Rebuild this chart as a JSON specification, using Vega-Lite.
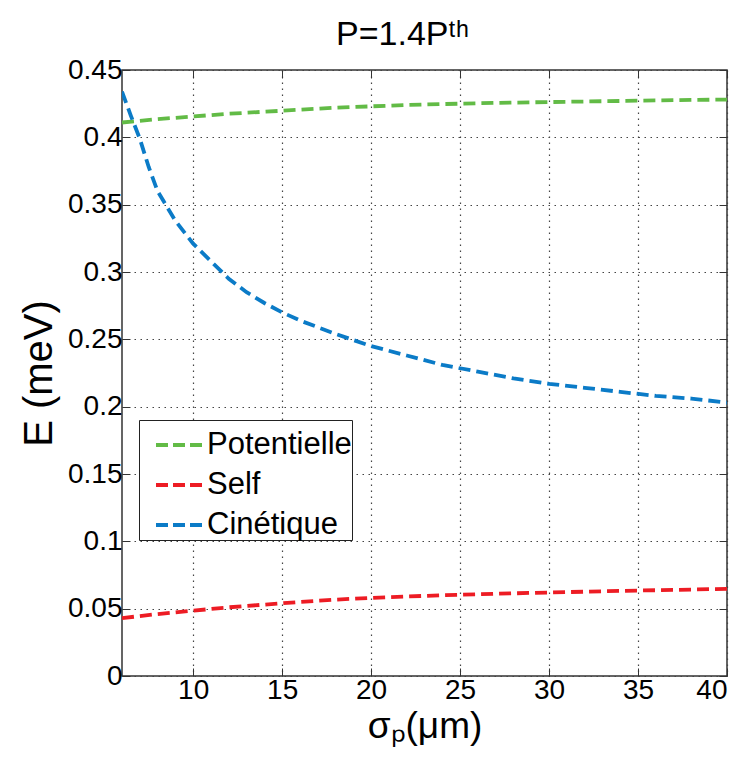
{
  "$schema": "https://vega.github.io/schema/vega-lite/v6.json",
  "width": 605,
  "height": 606,
  "autosize": {"type": "none"},
  "padding": {"left": 122, "top": 70, "right": 17, "bottom": 82},
  "background": "white",
  "config": {
    "font": "Liberation Sans",
    "view": {"stroke": "#333333", "strokeWidth": 1.5},
    "axis": {"domain": false}
  },
  "title": {
    "text": "P=1.4Pᵗʰ",
    "font": "Liberation Sans",
    "fontSize": 34,
    "fontWeight": "normal",
    "color": "black",
    "offset": 4,
    "dx": -22
  },
  "data": {
    "values": [
      {"s": 6, "E": 0.411, "k": "Potentielle"},
      {"s": 8, "E": 0.4135, "k": "Potentielle"},
      {"s": 10, "E": 0.4155, "k": "Potentielle"},
      {"s": 12, "E": 0.4175, "k": "Potentielle"},
      {"s": 14, "E": 0.419, "k": "Potentielle"},
      {"s": 16, "E": 0.4205, "k": "Potentielle"},
      {"s": 18, "E": 0.422, "k": "Potentielle"},
      {"s": 20, "E": 0.423, "k": "Potentielle"},
      {"s": 22, "E": 0.424, "k": "Potentielle"},
      {"s": 24, "E": 0.4247, "k": "Potentielle"},
      {"s": 26, "E": 0.4253, "k": "Potentielle"},
      {"s": 28, "E": 0.4258, "k": "Potentielle"},
      {"s": 30, "E": 0.4262, "k": "Potentielle"},
      {"s": 32, "E": 0.4266, "k": "Potentielle"},
      {"s": 34, "E": 0.427, "k": "Potentielle"},
      {"s": 36, "E": 0.4274, "k": "Potentielle"},
      {"s": 38, "E": 0.4278, "k": "Potentielle"},
      {"s": 40, "E": 0.428, "k": "Potentielle"},
      {"s": 6, "E": 0.043, "k": "Self"},
      {"s": 8, "E": 0.046, "k": "Self"},
      {"s": 10, "E": 0.0485, "k": "Self"},
      {"s": 12, "E": 0.051, "k": "Self"},
      {"s": 14, "E": 0.053, "k": "Self"},
      {"s": 16, "E": 0.055, "k": "Self"},
      {"s": 18, "E": 0.0567, "k": "Self"},
      {"s": 20, "E": 0.058, "k": "Self"},
      {"s": 22, "E": 0.059, "k": "Self"},
      {"s": 24, "E": 0.06, "k": "Self"},
      {"s": 26, "E": 0.0607, "k": "Self"},
      {"s": 28, "E": 0.0614, "k": "Self"},
      {"s": 30, "E": 0.062, "k": "Self"},
      {"s": 32, "E": 0.0626, "k": "Self"},
      {"s": 34, "E": 0.0632, "k": "Self"},
      {"s": 36, "E": 0.0637, "k": "Self"},
      {"s": 38, "E": 0.0642, "k": "Self"},
      {"s": 40, "E": 0.0647, "k": "Self"},
      {"s": 6, "E": 0.434, "k": "Cinétique"},
      {"s": 6.5, "E": 0.416, "k": "Cinétique"},
      {"s": 7, "E": 0.399, "k": "Cinétique"},
      {"s": 7.5, "E": 0.378, "k": "Cinétique"},
      {"s": 8, "E": 0.36, "k": "Cinétique"},
      {"s": 9, "E": 0.338, "k": "Cinétique"},
      {"s": 10, "E": 0.321, "k": "Cinétique"},
      {"s": 11, "E": 0.308, "k": "Cinétique"},
      {"s": 12, "E": 0.295, "k": "Cinétique"},
      {"s": 13, "E": 0.285, "k": "Cinétique"},
      {"s": 14, "E": 0.277, "k": "Cinétique"},
      {"s": 15, "E": 0.27, "k": "Cinétique"},
      {"s": 16, "E": 0.264, "k": "Cinétique"},
      {"s": 17, "E": 0.259, "k": "Cinétique"},
      {"s": 18, "E": 0.254, "k": "Cinétique"},
      {"s": 20, "E": 0.245, "k": "Cinétique"},
      {"s": 22, "E": 0.238, "k": "Cinétique"},
      {"s": 24, "E": 0.231, "k": "Cinétique"},
      {"s": 26, "E": 0.226, "k": "Cinétique"},
      {"s": 28, "E": 0.221, "k": "Cinétique"},
      {"s": 30, "E": 0.217, "k": "Cinétique"},
      {"s": 32, "E": 0.214, "k": "Cinétique"},
      {"s": 34, "E": 0.211, "k": "Cinétique"},
      {"s": 36, "E": 0.208, "k": "Cinétique"},
      {"s": 38, "E": 0.206, "k": "Cinétique"},
      {"s": 40, "E": 0.203, "k": "Cinétique"}
    ]
  },
  "layer": [
    {
      "mark": {"type": "line", "strokeWidth": 3.8, "strokeDash": [12, 6], "clip": true},
      "encoding": {
        "x": {
          "field": "s",
          "type": "quantitative",
          "scale": {"domain": [6, 40], "nice": false, "zero": false},
          "axis": {
            "values": [10, 15, 20, 25, 30, 35, 40],
            "title": "σₚ(μm)",
            "titleFontSize": 37,
            "titleFontWeight": "normal",
            "titleColor": "black",
            "titlePadding": 4,
            "labelFontSize": 28,
            "labelColor": "black",
            "labelPadding": 8,
            "tickSize": -8,
            "tickColor": "#333333",
            "grid": true,
            "gridColor": "#444444",
            "gridDash": [1.5, 4.5],
            "gridWidth": 1.2
          }
        },
        "y": {
          "field": "E",
          "type": "quantitative",
          "scale": {"domain": [0, 0.45], "nice": false},
          "axis": {
            "values": [0, 0.05, 0.1, 0.15, 0.2, 0.25, 0.3, 0.35, 0.4, 0.45],
            "labelExpr": "format(datum.value, '~g')",
            "title": "E (meV)",
            "titleFontSize": 40,
            "titleFontWeight": "normal",
            "titleColor": "black",
            "titlePadding": 8,
            "labelFontSize": 28,
            "labelColor": "black",
            "labelPadding": 8,
            "tickSize": -8,
            "tickColor": "#333333",
            "grid": true,
            "gridColor": "#444444",
            "gridDash": [1.5, 4.5],
            "gridWidth": 1.2
          }
        },
        "color": {
          "field": "k",
          "type": "nominal",
          "sort": ["Potentielle", "Self", "Cinétique"],
          "scale": {
            "domain": ["Potentielle", "Self", "Cinétique"],
            "range": ["#62bb46", "#ed1c24", "#0b7bc7"]
          },
          "legend": {
            "title": null,
            "orient": "none",
            "legendX": 17,
            "legendY": 350,
            "symbolType": "stroke",
            "symbolSize": 2116,
            "symbolStrokeWidth": 3.8,
            "symbolDash": [12, 5],
            "symbolOffset": 15,
            "labelFontSize": 31,
            "labelColor": "black",
            "labelOffset": 3,
            "rowPadding": -9,
            "padding": 0,
            "strokeColor": "#222222",
            "fillColor": "white",
            "labelLimit": 300
          }
        }
      }
    },
    {
      "mark": {"type": "line", "opacity": 0},
      "encoding": {
        "x": {
          "field": "s",
          "type": "quantitative",
          "axis": {
            "orient": "top",
            "values": [10, 15, 20, 25, 30, 35, 40],
            "labels": false,
            "title": null,
            "tickSize": -8,
            "tickColor": "#333333",
            "grid": false
          }
        },
        "y": {
          "field": "E",
          "type": "quantitative",
          "axis": {
            "orient": "right",
            "values": [0, 0.05, 0.1, 0.15, 0.2, 0.25, 0.3, 0.35, 0.4, 0.45],
            "labels": false,
            "title": null,
            "tickSize": -8,
            "tickColor": "#333333",
            "grid": false
          }
        },
        "detail": {"field": "k", "type": "nominal"}
      }
    }
  ],
  "resolve": {"axis": {"x": "independent", "y": "independent"}}
}
